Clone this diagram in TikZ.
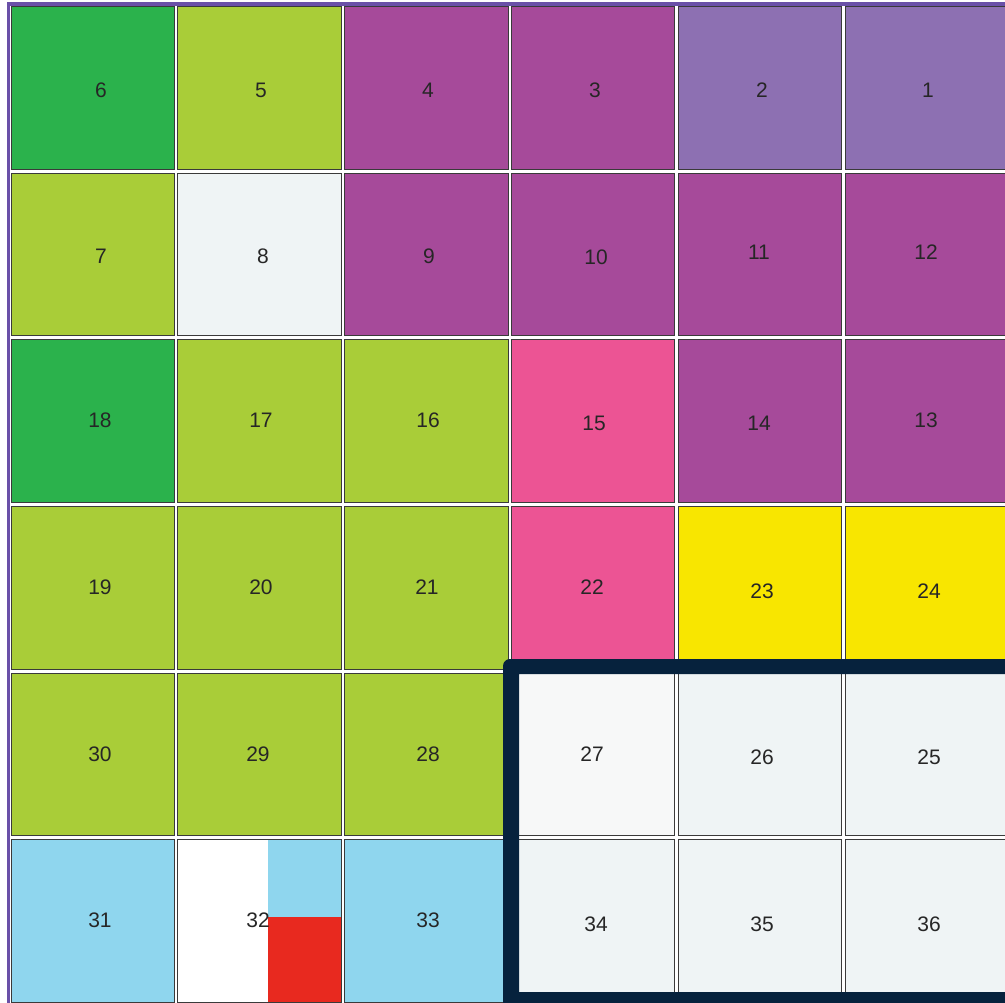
\documentclass[tikz,border=0pt]{standalone}
\usepackage{fontspec}
\setmainfont{Liberation Sans}
\definecolor{leaf}{HTML}{2BB24C}
\definecolor{lime}{HTML}{A9CD38}
\definecolor{plum}{HTML}{A64A9A}
\definecolor{lavender}{HTML}{8D70B2}
\definecolor{rose}{HTML}{EC5494}
\definecolor{sun}{HTML}{F8E600}
\definecolor{pale}{HTML}{EFF4F5}
\definecolor{paler}{HTML}{F7F8F8}
\definecolor{sky}{HTML}{8FD6EE}
\definecolor{alarm}{HTML}{E8291F}
\definecolor{navy}{HTML}{06223D}
\definecolor{edge}{HTML}{6A50A8}
\definecolor{cellline}{HTML}{3A3A3A}

\begin{document}
\begin{tikzpicture}[x=1pt, y=-1pt,
  cell/.style={draw=cellline, line width=0.9pt},
  num/.style={font=\fontsize{21}{24}\selectfont, text=black!85}]
  \useasboundingbox (0,0) rectangle (1005,1003);
  \clip (0,0) rectangle (1005,1003);

  % purple edge of the board
  \fill[edge] (7,2) rectangle (1005,6);
  \fill[edge] (7,2) rectangle (10,1003);

  % squares: column/row/colour
  \foreach \c/\r/\col in {
      0/0/leaf, 1/0/lime, 2/0/plum, 3/0/plum, 4/0/lavender, 5/0/lavender,
      0/1/lime, 1/1/pale, 2/1/plum, 3/1/plum, 4/1/plum, 5/1/plum,
      0/2/leaf, 1/2/lime, 2/2/lime, 3/2/rose, 4/2/plum, 5/2/plum,
      0/3/lime, 1/3/lime, 2/3/lime, 3/3/rose, 4/3/sun, 5/3/sun,
      0/4/lime, 1/4/lime, 2/4/lime, 3/4/paler, 4/4/pale, 5/4/pale,
      0/5/sky, 1/5/white, 2/5/sky, 3/5/pale, 4/5/pale, 5/5/pale}
    \draw[cell, fill=\col] ({11+166.8*\c},{6.7+166.6*\r}) rectangle ++(163.5,162.5);

  % split square 32
  \fill[sky] (268,839.7) rectangle (341.3,917);
  \fill[alarm] (268,917) rectangle (341.3,1003);
  \draw[cell] (177.8,839.7) rectangle ++(163.5,162.5);

  \node[num] (n6) at (101,90) {6};
  \node[num] (n5) at (261,90) {5};
  \node[num] (n4) at (428,90) {4};
  \node[num] (n3) at (595,90) {3};
  \node[num] (n2) at (762,90) {2};
  \node[num] (n1) at (928,90) {1};

  \node[num] (n7) at (101,256) {7};
  \node[num] (n8) at (263,256) {8};
  \node[num] (n9) at (429,256) {9};
  \node[num] (n10) at (596,257) {10};
  \node[num] (n11) at (759,252) {11};
  \node[num] (n12) at (926,252) {12};

  \node[num] (n18) at (100,420) {18};
  \node[num] (n17) at (261,420) {17};
  \node[num] (n16) at (428,420) {16};
  \node[num] (n15) at (594,423) {15};
  \node[num] (n14) at (759,423) {14};
  \node[num] (n13) at (926,420) {13};

  \node[num] (n19) at (100,587) {19};
  \node[num] (n20) at (261,587) {20};
  \node[num] (n21) at (427,587) {21};
  \node[num] (n22) at (592,587) {22};
  \node[num] (n23) at (762,591) {23};
  \node[num] (n24) at (929,591) {24};

  \node[num] (n30) at (100,754) {30};
  \node[num] (n29) at (258,754) {29};
  \node[num] (n28) at (428,754) {28};
  \node[num] (n27) at (592,754) {27};
  \node[num] (n26) at (762,757) {26};
  \node[num] (n25) at (929,757) {25};

  \node[num] (n31) at (100,920) {31};
  \node[num, anchor=east, inner sep=0pt] (n32) at (270,920) {32};
  \node[num] (n33) at (428,920) {33};
  \node[num] (n34) at (596,924) {34};
  \node[num] (n35) at (762,924) {35};
  \node[num] (n36) at (929,924) {36};

  % dark frame round the bottom right block
  \fill[navy, even odd rule]
    [rounded corners=7] (503,659) rectangle (1030,1030)
    [sharp corners] (519,674) rectangle (1020,992);
\end{tikzpicture}
\end{document}
